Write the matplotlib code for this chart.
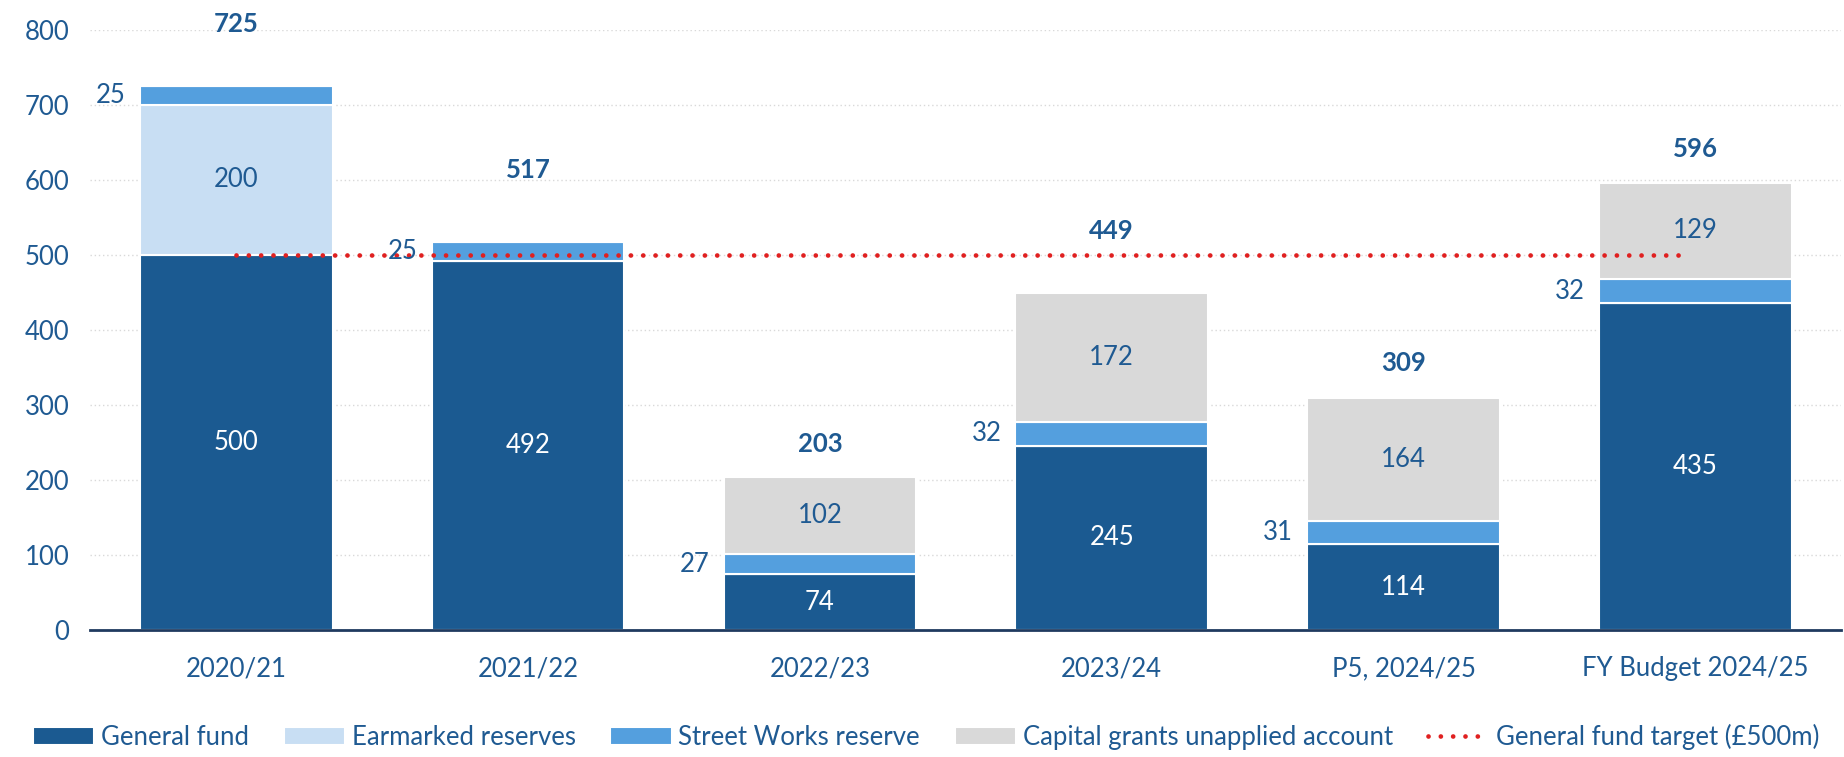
import numpy as np
import matplotlib.pyplot as plt

plt.rcParams['font.family'] = ['Lato', 'DejaVu Sans']

# chart data (GBP m)
years = ["2020/21", "2021/22", "2022/23", "2023/24", "P5, 2024/25", "FY Budget 2024/25"]
general_fund = [500, 492, 74, 245, 114, 435]
earmarked = [200, 0, 0, 0, 0, 0]
street_works = [25, 25, 27, 32, 31, 32]
capital_grants = [0, 0, 102, 172, 164, 129]
totals = [725, 517, 203, 449, 309, 596]
target = 500

# styling
c_gen = "#1B5A91"
c_ear = "#C8DEF3"
c_str = "#549FDE"
c_cap = "#D9D9D9"
c_red = "#E02020"
c_txt = "#1F5A92"
total_pad = [62, 72, 33, 62, 35, 34]  # pixels above each bar top

fig = plt.figure(figsize=(18.44, 7.57), dpi=100)
ax = fig.add_axes([0.049, 0.168, 0.9495, 0.793])

x = np.arange(len(years))
w = 0.66
gen = np.array(general_fund)
ear = np.array(earmarked)
stw = np.array(street_works)
cap = np.array(capital_grants)

kw = dict(width=w, edgecolor="white", linewidth=1.5, zorder=2)
ax.bar(x, gen, color=c_gen, label="General fund", **kw)
ax.bar(x, ear, bottom=gen, color=c_ear, label="Earmarked reserves", **kw)
ax.bar(x, stw, bottom=gen + ear, color=c_str, label="Street Works reserve", **kw)
ax.bar(x, cap, bottom=gen + ear + stw, color=c_cap, label="Capital grants unapplied account", **kw)

ax.plot([x[0], x[-1] - 0.03], [target, target], color=c_red, linewidth=3.4,
        linestyle=(0, (0.01, 2.6)), dash_capstyle="round", zorder=4,
        label="General fund target (\u00a3500m)")

fs = 18.5
for i in range(len(x)):
    ax.text(x[i], gen[i] / 2, str(gen[i]), color="white", ha="center", va="center", fontsize=fs, zorder=5)
    if ear[i] > 0:
        ax.text(x[i], gen[i] + ear[i] / 2, str(ear[i]), color=c_txt, ha="center", va="center", fontsize=fs, zorder=5)
    ax.annotate(str(stw[i]), (x[i] - w / 2, gen[i] + ear[i] + stw[i] / 2), xytext=(-14, 0),
                textcoords="offset pixels", color=c_txt, ha="right", va="center", fontsize=fs, zorder=5)
    if cap[i] > 0:
        ax.text(x[i], gen[i] + ear[i] + stw[i] + cap[i] / 2, str(cap[i]), color=c_txt,
                ha="center", va="center", fontsize=fs, zorder=5)
    ax.annotate(str(totals[i]), (x[i], totals[i]), xytext=(0, total_pad[i]), textcoords="offset pixels",
                color=c_txt, ha="center", va="center", fontsize=fs, fontweight="bold",
                annotation_clip=False, zorder=5)

ax.set_xlim(-0.5, len(x) - 0.5)
ax.set_ylim(0, 800)
ax.set_yticks(np.arange(0, 801, 100))
ax.set_xticks(x)
ax.set_xticklabels(years)
ax.tick_params(axis="both", length=0, labelsize=fs, labelcolor=c_txt)
ax.tick_params(axis="x", pad=19)
ax.tick_params(axis="y", pad=15)
ax.grid(axis="y", color="#D9D9D9", linestyle=(0, (1, 2)), linewidth=1, zorder=0)
ax.set_axisbelow(True)
for s in ["left", "right", "top"]:
    ax.spines[s].set_visible(False)
ax.spines["bottom"].set_color("#1F3A5F")
ax.spines["bottom"].set_linewidth(2)

handles, labels = ax.get_legend_handles_labels()
order = [1, 2, 3, 4, 0]
leg = fig.legend([handles[k] for k in order], [labels[k] for k in order],
                 loc="lower left", bbox_to_anchor=(0.008, -0.014), ncol=5, frameon=False,
                 fontsize=18.5, handlelength=2.4, handleheight=0.7, handletextpad=0.25,
                 columnspacing=1.35, borderaxespad=0.3)
for t in leg.get_texts():
    t.set_color(c_txt)

fig.savefig("out.png", dpi=100)
